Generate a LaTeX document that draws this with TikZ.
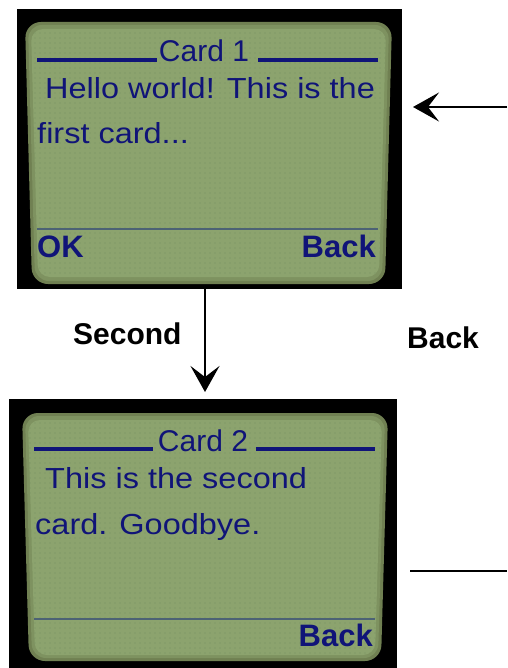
\documentclass[tikz,border=0pt]{standalone}
\usepackage{fontspec}
\setmainfont{Liberation Sans}
\usetikzlibrary{arrows.meta,patterns.meta}
\definecolor{lcdrim}{RGB}{112,128,82}
\definecolor{lcdmid}{RGB}{126,146,96}
\definecolor{lcd}{RGB}{140,163,110}
\definecolor{lcddot}{RGB}{118,144,100}
\definecolor{ink}{RGB}{16,20,120}
\definecolor{rule}{RGB}{76,98,116}

\begin{document}
\begin{tikzpicture}[x=1pt,y=-1pt,
  bezel/.style={fill=black, draw=none, inner sep=0pt, outer sep=0pt, rectangle, anchor=north west},
  screenrim/.style={fill=lcdrim, rounded corners=16pt},
  screenmid/.style={fill=lcdmid, rounded corners=14pt},
  screenface/.style={fill=lcd, rounded corners=12pt},
  screendots/.style={pattern={Dots[distance=5pt,radius=0.7pt]}, pattern color=lcddot, rounded corners=12pt},
  lcdtext/.style={text=ink, font=\fontsize{29}{29}\selectfont, inner sep=0pt, anchor=base west, xscale=1.12},
  lcdtitle/.style={text=ink, font=\fontsize{30}{30}\selectfont, inner sep=0pt, anchor=base},
  softkey/.style={text=ink, font=\bfseries\fontsize{31}{31}\selectfont, inner sep=0pt},
  titlebar/.style={draw=ink, line width=4pt},
  divider/.style={draw=rule, line width=1.5pt},
  flow/.style={draw=black, line width=2pt, -{Stealth[length=26pt,width=29pt,inset=11pt]}},
  flowlabel/.style={font=\bfseries\fontsize{30}{30}\selectfont, inner sep=0pt, anchor=base west}
]
\useasboundingbox (0,0) rectangle (507,668);
\clip (0,0) rectangle (507,668);

% ---- first card: phone display ----
\node[bezel, minimum width=385pt, minimum height=280pt] (card1) at (17,9) {};
\fill[screenrim] (25,22) -- (392,22) -- (385,284) -- (32,284) -- cycle;
\fill[screenmid] (28,25) -- (389,25) -- (382,281) -- (35,281) -- cycle;
\fill[screenface] (31,29) -- (386,29) -- (379,277) -- (38,277) -- cycle;
\fill[screendots] (31,29) -- (386,29) -- (379,277) -- (38,277) -- cycle;

\node[lcdtitle] (title1) at (204,62) {Card 1};
\draw[titlebar] (37,60) -- (157,60);
\draw[titlebar] (258,60) -- (378,60);
\node[lcdtext] (card1line1) at (45,99) {Hello world! This is the};
\node[lcdtext] (card1line2) at (37,144) {first card...};
\draw[divider] (37,229) -- (378,229);
\node[softkey, anchor=base west] (card1ok) at (37,257) {OK};
\node[softkey, anchor=base east] (card1back) at (376,257) {Back};

% ---- second card: phone display ----
\node[bezel, minimum width=388pt, minimum height=269pt] (card2) at (9,399) {};
\fill[screenrim] (22,413) -- (388,413) -- (381,661) -- (29,661) -- cycle;
\fill[screenmid] (25,416) -- (385,416) -- (378,658) -- (32,658) -- cycle;
\fill[screenface] (28,420) -- (382,420) -- (375,655) -- (35,655) -- cycle;
\fill[screendots] (28,420) -- (382,420) -- (375,655) -- (35,655) -- cycle;

\node[lcdtitle] (title2) at (203,451) {Card 2};
\draw[titlebar] (34,449) -- (153,449);
\draw[titlebar] (256,449) -- (375,449);
\node[lcdtext] (card2line1) at (45,488) {This is the second};
\node[lcdtext] (card2line2) at (35,534) {card. Goodbye.};
\draw[divider] (34,619) -- (375,619);
\node[softkey, anchor=base east] (card2back) at (373,646) {Back};

% ---- navigation between the cards ----
\draw[flow, shorten >=7pt] ([xshift=-4.5pt]card1.south) -- ([xshift=-4.5pt]card1.south |- card2.north);
\node[flowlabel] (lblsecond) at (73,344) {Second};
\node[flowlabel] (lblback) at (407,348) {Back};

\coordinate (backin) at (507,107);
\draw[flow, shorten >=11pt] (backin) -- (backin -| card1.east);
\coordinate (backout) at (507,571);
\draw[line width=2pt, shorten <=13pt] (backout -| card2.east) -- (backout);
\end{tikzpicture}
\end{document}
